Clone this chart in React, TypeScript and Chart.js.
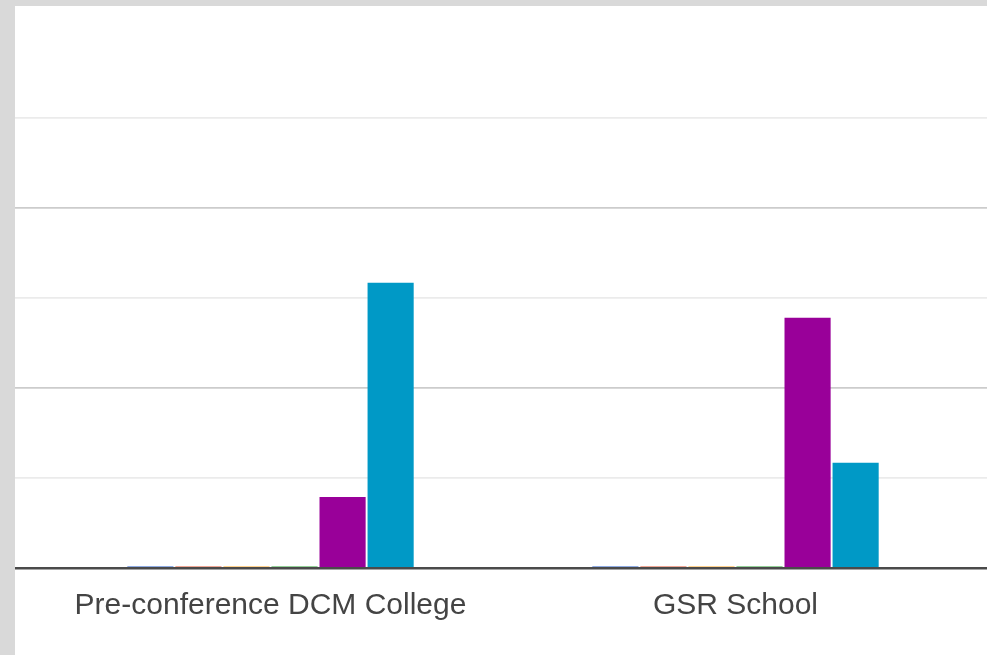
import React, { useEffect, useRef } from "react";
import { Chart, registerables } from "chart.js";

Chart.register(...registerables);

const categories = ["Pre-conference DCM College", "GSR School"];
const seriesNames = ["Series 1", "Series 2", "Series 3", "Series 4", "Series 5", "Series 6"];
const seriesColors = ["#3366cc", "#dc3912", "#ff9900", "#109618", "#990099", "#0099c6"];
const zeroColors = ["rgba(51,102,204,0.55)", "rgba(220,57,18,0.45)", "rgba(255,153,0,0.45)", "rgba(16,150,24,0.45)", "#990099", "#0099c6"];
const series1 = [0, 0];
const series2 = [0, 0];
const series3 = [0, 0];
const series4 = [0, 0];
const series5 = [0.79, 2.78];
const series6 = [3.17, 1.17];
const yTicks = [0, 1, 2, 3, 4, 5];

export default function App() {
  const ref = useRef<HTMLCanvasElement | null>(null);
  useEffect(() => {
    document.body.style.margin = "0";
    const all = [series1, series2, series3, series4, series5, series6];
    const labels = ["", ...categories, ""];
    const chart = new Chart(ref.current!, {
      type: "bar",
      data: {
        labels,
        datasets: all.map((vals, i) => ({
          label: seriesNames[i],
          data: [null, ...vals, null],
          backgroundColor: [zeroColors[i], ...vals.map((v) => (v === 0 ? zeroColors[i] : seriesColors[i])), zeroColors[i]],
          borderWidth: 0,
          minBarLength: 2,
          categoryPercentage: 0.62,
          barPercentage: 0.96,
        })),
      },
      options: {
        animation: false,
        responsive: false,
        maintainAspectRatio: false,
        layout: { padding: { top: 112, left: 0, right: 0, bottom: 0 } },
        plugins: { legend: { display: false }, tooltip: { enabled: false } },
        scales: {
          x: {
            grid: { display: false, drawTicks: false },
            border: { display: true, color: "#4a4a4a", width: 2.5 },
            ticks: {
              color: "#444444",
              font: { family: "'Liberation Sans', Arial, sans-serif", size: 30 },
              padding: 20,
              maxRotation: 0,
              autoSkip: false,
            },
            afterFit: (s: any) => {
              s.height = 87;
            },
          },
          y: {
            min: yTicks[0],
            max: yTicks[yTicks.length - 1],
            afterBuildTicks: (s: any) => {
              s.ticks = yTicks.map((v) => ({ value: v }));
            },
            ticks: { display: false },
            border: { display: false },
            grid: {
              drawTicks: false,
              lineWidth: 1.8,
              color: (c: any) => (c.tick && c.tick.value === 0 ? "#4a4a4a" : c.tick && c.tick.value % 2 === 0 ? "#cccccc" : "#ebebeb"),
            },
            afterFit: (s: any) => {
              s.width = 0;
            },
          },
        },
      },
    });
    return () => chart.destroy();
  }, []);

  return (
    <div style={{ position: "fixed", inset: 0, background: "#d9d9d9" }}>
      <div style={{ position: "absolute", left: 15, top: 6, right: 0, bottom: 0, background: "#ffffff", overflow: "hidden" }}>
        <canvas ref={ref} width={1860} height={649} style={{ position: "absolute", left: -442.5, top: 0, width: 1860, height: 649 }} />
      </div>
    </div>
  );
}
